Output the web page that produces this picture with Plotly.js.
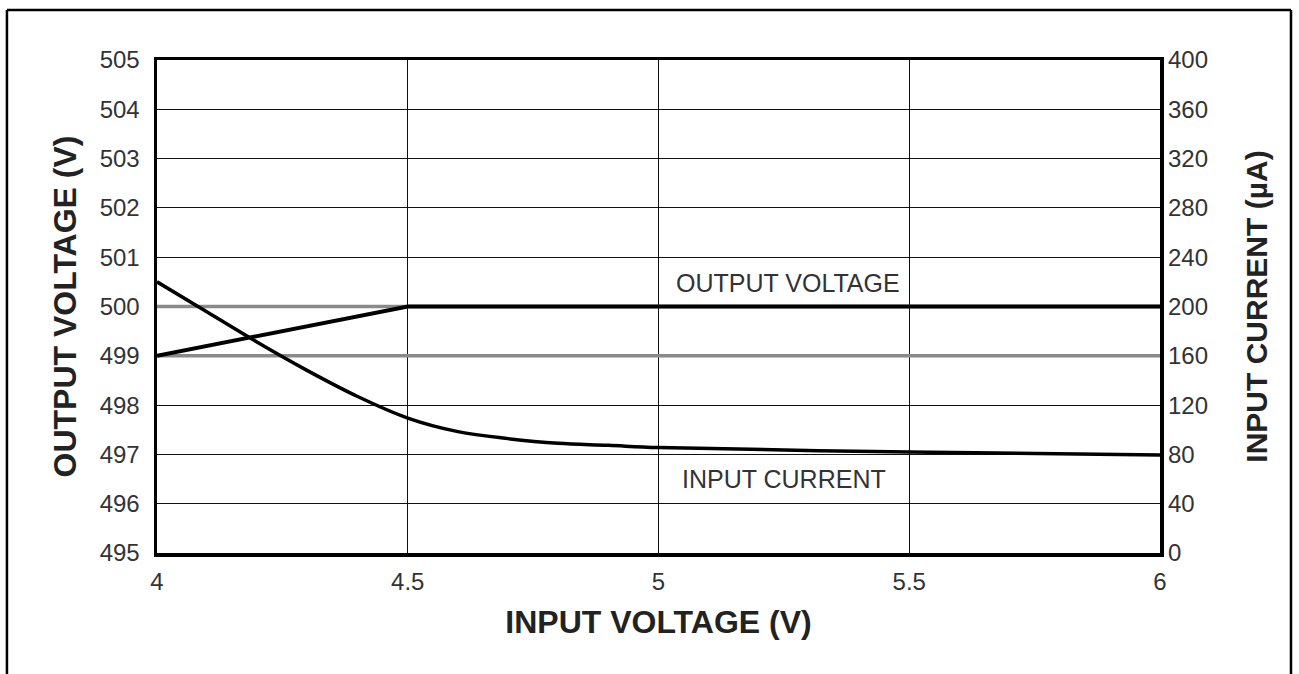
<!DOCTYPE html>
<html>
<head>
<meta charset="utf-8">
<script src="https://cdn.plot.ly/plotly-3.0.1.min.js"></script>
<style>html,body{margin:0;padding:0;background:#fff;}#chart{width:1299px;height:674px;}</style>
</head>
<body>
<div id="chart"></div>
<script>
// Data
const vinVout = [4.0, 4.5, 5.0, 5.5, 6.0];
const vout = [499.0, 500.0, 500.0, 500.0, 500.0];

const vinIin = [4.0, 4.1, 4.2, 4.3, 4.4, 4.5, 4.6, 4.7, 4.8, 4.9, 5.0, 5.5, 6.0];
const iin = [220, 195.5, 171, 148, 127, 109.5, 98.5, 92.8, 89, 87.4, 85.5, 82, 79.5];

const xTicks = [4, 4.5, 5, 5.5, 6];
const xTickLabels = ['4', '4.5', '5', '5.5', '6'];
const yTicks = [495, 496, 497, 498, 499, 500, 501, 502, 503, 504, 505];
const y2Ticks = [0, 40, 80, 120, 160, 200, 240, 280, 320, 360, 400];
const greyGridLevels = [499, 500];

const FONT = 'Liberation Sans, Arial, Helvetica, sans-serif';

const traces = [
  {x: vinVout, y: vout, type: 'scatter', mode: 'lines', name: 'OUTPUT VOLTAGE',
   line: {color: '#000', width: 4}, yaxis: 'y'},
  {x: vinIin, y: iin, type: 'scatter', mode: 'lines', name: 'INPUT CURRENT',
   line: {color: '#000', width: 3.5, shape: 'spline', smoothing: 1}, yaxis: 'y2'}
];

const shapes = greyGridLevels.map(v => ({
  type: 'line', xref: 'x', yref: 'y', x0: 4, x1: 6, y0: v, y1: v,
  line: {color: '#8a8a8a', width: 3.5}, layer: 'between'
}));
// outer frame (top, left, right)
shapes.push({type: 'line', xref: 'paper', yref: 'paper', x0: -0.1496, x1: 1.1306, y0: 1.1014, y1: 1.1014, line: {color: '#000', width: 2.5}});
shapes.push({type: 'line', xref: 'paper', yref: 'paper', x0: -0.1496, x1: -0.1496, y0: 1.1014, y1: -0.3, line: {color: '#000', width: 2.5}});
shapes.push({type: 'line', xref: 'paper', yref: 'paper', x0: 1.1306, x1: 1.1306, y0: 1.1014, y1: -0.3, line: {color: '#000', width: 2.5}});

const layout = {
  width: 1299, height: 674,
  margin: {l: 157, r: 139, t: 60, b: 121},
  paper_bgcolor: '#fff', plot_bgcolor: 'rgba(0,0,0,0)',
  showlegend: false,
  font: {family: FONT, color: '#333', size: 24},
  xaxis: {
    range: [4, 6], tickvals: xTicks, ticktext: xTickLabels,
    showgrid: true, gridcolor: '#111', gridwidth: 1,
    showline: true, linecolor: '#000', linewidth: 3.5, mirror: true,
    ticks: '', ticklabelstandoff: 5, zeroline: false,
    tickfont: {size: 24, color: '#333', family: FONT},
    title: {text: 'INPUT VOLTAGE (V)', font: {size: 32, color: '#222', family: FONT, weight: 'bold'}, standoff: 17}
  },
  yaxis: {
    range: [495, 505], tickvals: yTicks,
    showgrid: true, gridcolor: '#111', gridwidth: 1,
    showline: true, linecolor: '#000', linewidth: 3.5, mirror: true,
    ticks: '', ticklabelstandoff: 9, zeroline: false,
    tickfont: {size: 24, color: '#333', family: FONT},
    title: {text: 'OUTPUT VOLTAGE (V)', font: {size: 32, color: '#222', family: FONT, weight: 'bold'}, standoff: 14}
  },
  yaxis2: {
    range: [0, 400], tickvals: y2Ticks, overlaying: 'y', side: 'right',
    showgrid: false, showline: false, zeroline: false,
    ticks: '', ticklabelstandoff: 7,
    tickfont: {size: 24, color: '#333', family: FONT},
    title: {text: 'INPUT CURRENT (µA)', font: {size: 30, color: '#222', family: FONT, weight: 'bold'}, standoff: 38}
  },
  shapes: shapes,
  annotations: [
    {x: 5.258, y: 500.47, xref: 'x', yref: 'y', text: 'OUTPUT VOLTAGE', showarrow: false,
     font: {size: 25, color: '#333', family: FONT}},
    {x: 5.25, y: 496.5, xref: 'x', yref: 'y', text: 'INPUT CURRENT', showarrow: false,
     font: {size: 25, color: '#333', family: FONT}}
  ]
};

Plotly.newPlot('chart', traces, layout, {displayModeBar: false, staticPlot: true});
</script>
</body>
</html>
